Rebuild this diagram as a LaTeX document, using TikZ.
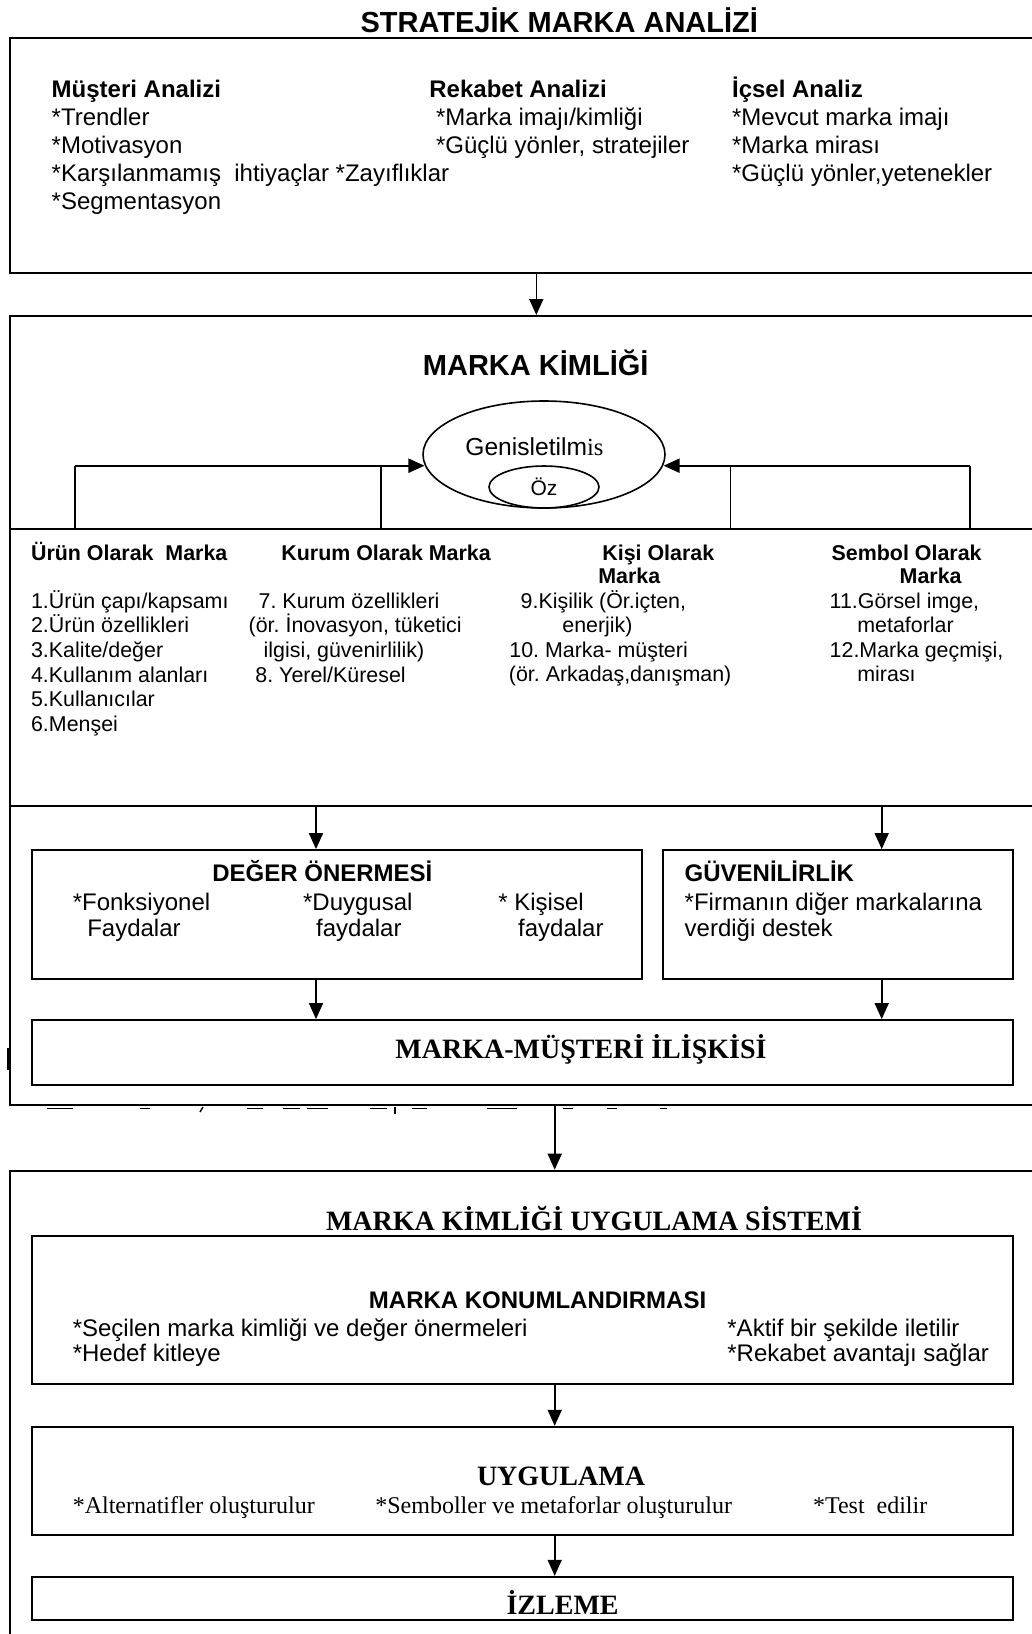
\documentclass[tikz,border=0pt]{standalone}
\usepackage{fontspec}
\setmainfont{Liberation Sans}
\newfontfamily\tms{Liberation Serif}
\usetikzlibrary{arrows.meta,shapes.geometric}
\frenchspacing
\begin{document}
\frenchspacing
\begin{tikzpicture}[x=0.5pt,y=-0.5pt,
  outerbox/.style={draw, line width=1pt, rectangle, inner sep=0pt},
  ibox/.style={draw, line width=0.9pt, rectangle, inner sep=0pt},
  arr/.style={-{Triangle[length=8pt,width=7pt]}, line width=0.8pt},
  conn/.style={line width=0.8pt},
  txt/.style={anchor=base west, inner sep=0pt, font=\fontsize{12}{14}\selectfont},
  txtb/.style={anchor=base west, inner sep=0pt, font=\bfseries\fontsize{12}{14}\selectfont},
  sm/.style={anchor=base west, inner sep=0pt, font=\fontsize{10.7}{13}\selectfont},
  smb/.style={anchor=base west, inner sep=0pt, font=\bfseries\fontsize{10.7}{13}\selectfont},
  ttl/.style={anchor=base, inner sep=0pt, font=\bfseries\fontsize{14.5}{17}\selectfont},
  ttltm/.style={anchor=base, inner sep=0pt, font=\tms\bfseries\fontsize{14}{17}\selectfont},
  tmtxt/.style={anchor=base west, inner sep=0pt, font=\tms\fontsize{12}{14}\selectfont},
  stray/.style={line width=0.7pt},
]
\useasboundingbox (0,0) rectangle (1032,1634);
\clip (0,0) rectangle (1032,1634);

% ---------- Box 1: Strategic brand analysis ----------
\node[ttl] (t1) at (559.3,32) {STRATEJİK MARKA ANALİZİ};
\node[outerbox, minimum width=517.5pt, minimum height=117.5pt] (b1) at (527.5,155.8) {};

\node[txtb] (h1) at (51.3,97) {Müşteri Analizi};
\node[txt] (m1) at (51.3,125) {*Trendler};
\node[txt] (m2) at (51.3,153) {*Motivasyon};
\node[txt] (m3) at (51.3,181) {*Karşılanmamış\ \ ihtiyaçlar *Zayıflıklar};
\node[txt] (m4) at (51.3,209) {*Segmentasyon};

\node[txtb] (h2) at (429,97) {Rekabet Analizi};
\node[txt] (r1) at (435.6,125) {*Marka imajı/kimliği};
\node[txt] (r2) at (435.6,153) {*Güçlü yönler, stratejiler};

\node[txtb] (h3) at (731.7,97) {İçsel Analiz};
\node[txt] (i1) at (731.7,125) {*Mevcut marka imajı};
\node[txt] (i2) at (731.7,153) {*Marka mirası};
\node[txt] (i3) at (731.7,181) {*Güçlü yönler,yetenekler};

% ---------- Box 2: Brand identity ----------
\node[outerbox, minimum width=517.5pt, minimum height=394.5pt] (b2) at (527.5,710.5) {};
\coordinate (xa) at (536.3,0);
\draw[arr] (b1.south -| xa) -- (b2.north -| xa);

\node[ttl] (t2) at (535.7,375) {MARKA KİMLİĞİ};

\node[draw, ellipse, line width=0.8pt, minimum width=121pt, minimum height=53.5pt, inner sep=0pt] (gen) at (544,454.5) {};
\node[draw, ellipse, line width=0.8pt, minimum width=55pt, minimum height=21pt, inner sep=0pt] (oz) at (544,487) {};
\node[anchor=base west, inner sep=0pt, font=\fontsize{12.3}{14}\selectfont] (gentxt) at (465,455) {Genisletilm{\tms is}};
\node[anchor=base, inner sep=0pt, font=\fontsize{10.5}{12}\selectfont] (oztxt) at (544,495) {Öz};

\coordinate (d1) at (10,529);
\coordinate (d2) at (10,806);
\draw[line width=1pt] (d1) -- (d1 -| b2.east);
\draw[line width=1pt] (d2) -- (d2 -| b2.east);

\coordinate (bl1) at (75,529);
\coordinate (bl2) at (380.7,529);
\coordinate (tl) at (75,465.7);
\coordinate (br1) at (969.7,529);
\coordinate (br2) at (730.3,529);
\coordinate (tr) at (969.7,465.7);
\draw[conn] (bl1) -- (tl);
\draw[conn] (bl2) -- (bl2 |- tl);
\draw[arr, line width=1pt] (tl) -- (tl -| gen.185);
\draw[conn] (br1) -- (tr);
\draw[conn] (br2) -- (br2 |- tr);
\draw[arr, line width=1pt] (tr) -- (tr -| gen.355);

\node[smb] (c1h) at (30.7,560) {Ürün Olarak\ \ Marka};
\node[sm] (c1a) at (30.7,608) {1.Ürün çapı/kapsamı};
\node[sm] (c1b) at (30.7,632.7) {2.Ürün özellikleri};
\node[sm] (c1c) at (30.7,657.4) {3.Kalite/değer};
\node[sm] (c1d) at (30.7,682.1) {4.Kullanım alanları};
\node[sm] (c1e) at (30.7,706.8) {5.Kullanıcılar};
\node[sm] (c1f) at (30.7,731.5) {6.Menşei};

\node[smb] (c2h) at (281,560) {Kurum Olarak Marka};
\node[sm] (c2a) at (258.3,608) {7. Kurum özellikleri};
\node[sm] (c2b) at (248.3,632.7) {(ör. İnovasyon, tüketici};
\node[sm] (c2c) at (263.3,657.4) {ilgisi, güvenirlilik)};
\node[sm] (c2d) at (255,682.1) {8. Yerel/Küresel};

\node[smb] (c3h) at (602,560) {Kişi Olarak};
\node[smb] (c3i) at (598,583.3) {Marka};
\node[sm] (c3a) at (520.3,608) {9.Kişilik (Ör.içten,};
\node[sm] (c3b) at (562,632.5) {enerjik)};
\node[sm] (c3c) at (509,657) {10. Marka- müşteri};
\node[sm] (c3d) at (508.5,681.5) {(ör. Arkadaş,danışman)};

\node[smb] (c4h) at (831.3,560) {Sembol Olarak};
\node[smb] (c4i) at (899.3,583.3) {Marka};
\node[sm] (c4a) at (829.3,608) {11.Görsel imge,};
\node[sm] (c4b) at (857,632.5) {metaforlar};
\node[sm] (c4c) at (829.3,657) {12.Marka geçmişi,};
\node[sm] (c4d) at (857,681.5) {mirası};

% value proposition and credibility
\node[ibox, minimum width=305.3pt, minimum height=64.5pt] (deger) at (336.9,914.5) {};
\node[ibox, minimum width=175pt, minimum height=64.5pt] (guven) at (838.3,914.5) {};
\node[ibox, minimum width=490.85pt, minimum height=32.5pt] (mmi) at (522.45,1052.5) {};

\coordinate (xl) at (316,0);
\coordinate (xr) at (881.7,0);
\draw[arr] (d2 -| xl) -- (deger.north -| xl);
\draw[arr] (d2 -| xr) -- (guven.north -| xr);
\draw[arr] (deger.south -| xl) -- (mmi.north -| xl);
\draw[arr] (guven.south -| xr) -- (mmi.north -| xr);

\node[txtb] (dh) at (212,881.7) {DEĞER ÖNERMESİ};
\node[txt] (da1) at (72.4,910) {*Fonksiyonel};
\node[txt] (da2) at (86.9,936.7) {Faydalar};
\node[txt] (db1) at (302.7,910) {*Duygusal};
\node[txt] (db2) at (315.8,936.7) {faydalar};
\node[txt] (dc1) at (498,910) {* Kişisel};
\node[txt] (dc2) at (517.8,936.7) {faydalar};

\node[txtb] (gh) at (684.3,881.7) {GÜVENİLİRLİK};
\node[txt] (g1) at (684.3,910) {*Firmanın diğer markalarına};
\node[txt] (g2) at (684.3,936.7) {verdiği destek};

\node[ttltm] (mmit) at (581,1058.3) {MARKA-MÜŞTERİ İLİŞKİSİ};

% stray marks under box 2 (bottoms of a hidden text line)
\foreach \xa/\xb in {47/73,140/150,247/263,283/300,307/328,370/387,412/427,487/517,563/573,607/617,660/667}
  \draw[stray] (\xa,1108.3) -- (\xb,1108.3);
\draw[stray] (203,1107) -- (200,1112);
\draw[stray] (395,1107) -- (395,1114);
\coordinate (s3) at (8,1048);
\coordinate (s4) at (8,1070);
\draw[line width=1.3pt] (s3) -- (s4);

% ---------- Box 3: implementation system ----------
\node[outerbox, minimum width=517.5pt, minimum height=244.65pt] (b3) at (527.5,1415.35) {};
\coordinate (xm) at (554.7,0);
\draw[arr] (b2.south -| xm) -- (b3.north -| xm);

\node[ttltm] (t3) at (594,1230) {MARKA KİMLİĞİ UYGULAMA SİSTEMİ};

\node[ibox, minimum width=490.85pt, minimum height=74.15pt] (konum) at (522.45,1310.15) {};
\node[ibox, minimum width=490.85pt, minimum height=54.15pt] (uyg) at (522.45,1480.85) {};
\node[ibox, minimum width=490.85pt, minimum height=21.65pt] (izl) at (522.45,1598.35) {};
\draw[arr] (konum.south -| xm) -- (uyg.north -| xm);
\draw[arr] (uyg.south -| xm) -- (izl.north -| xm);

\node[anchor=base, inner sep=0pt, font=\bfseries\fontsize{12}{14}\selectfont] (kh) at (537.6,1308.3) {MARKA KONUMLANDIRMASI};
\node[txt] (k1) at (72.4,1336.7) {*Seçilen marka kimliği ve değer önermeleri};
\node[txt] (k2) at (72.4,1361.7) {*Hedef kitleye};
\node[txt] (k3) at (727,1336.7) {*Aktif bir şekilde iletilir};
\node[txt] (k4) at (727,1361.7) {*Rekabet avantajı sağlar};

\node[ttltm] (uh) at (561,1485) {UYGULAMA};
\node[tmtxt] (u1) at (72.4,1513.3) {*Alternatifler oluşturulur};
\node[tmtxt] (u2) at (375,1513.3) {*Semboller ve metaforlar oluşturulur};
\node[tmtxt] (u3) at (812.6,1513.3) {*Test\ \ edilir};

\node[ttltm] (ih) at (562.6,1614) {İZLEME};
\end{tikzpicture}
\end{document}
